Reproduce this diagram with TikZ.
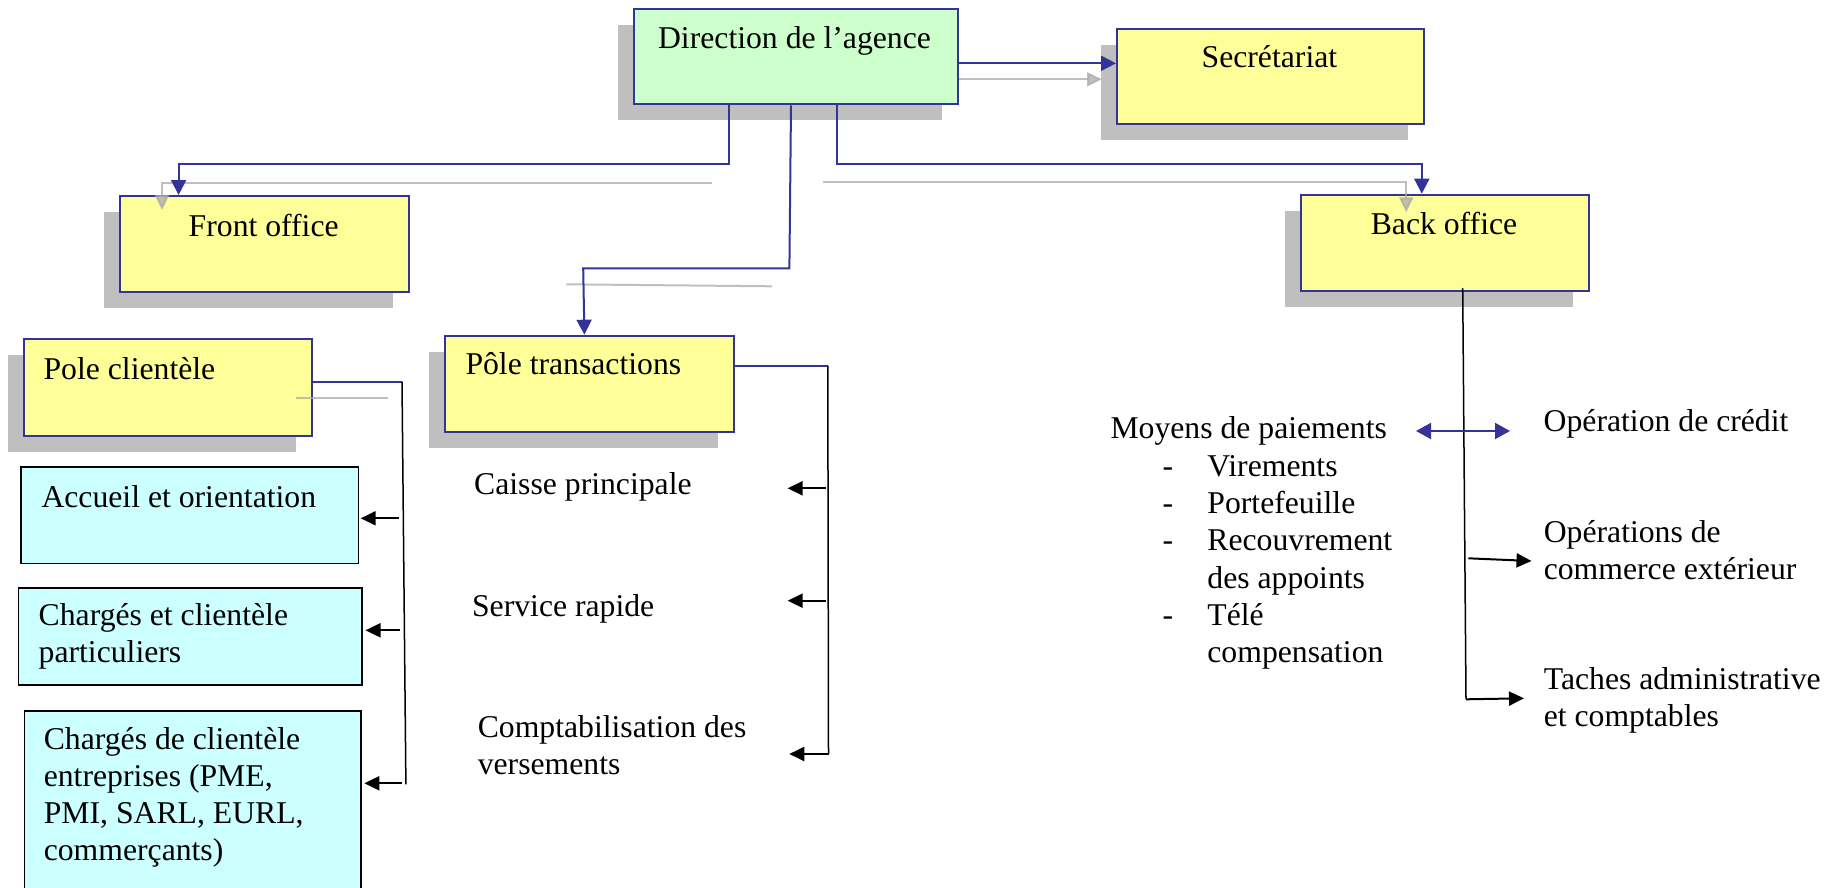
\documentclass[tikz,border=0pt]{standalone}
\usepackage{fontspec}
\setmainfont{Liberation Serif}
\usetikzlibrary{arrows.meta,shadows,calc}
\definecolor{bblue}{HTML}{333399}
\definecolor{byellow}{HTML}{FFFF99}
\definecolor{bgreen}{HTML}{CCFFCC}
\definecolor{bcyan}{HTML}{CCFFFF}
\definecolor{shgray}{HTML}{BFBFBF}
\definecolor{lgray}{HTML}{AAAAAA}
\newcommand{\bigfont}{\fontsize{31.7pt}{37.1pt}\selectfont}
\newcommand{\mlines}[1]{\begin{tabular}[t]{@{}l@{}}#1\end{tabular}}
\tikzset{
  sh/.style={drop shadow={shadow xshift=-16pt, shadow yshift=-16pt, opacity=1, fill=shgray}},
  ybox/.style={draw=bblue, line width=2pt, fill=byellow, inner sep=0pt, anchor=north west, sh},
  gbox/.style={draw=bblue, line width=2pt, fill=bgreen, inner sep=0pt, anchor=north west, sh},
  cbox/.style={draw=black, line width=1.5pt, fill=bcyan, inner sep=0pt, anchor=north west},
  lbl/.style={inner sep=0pt, anchor=base west},
  clbl/.style={inner sep=0pt, anchor=base},
  bl/.style={draw=bblue, line width=2pt},
  blarrow/.style={bl, -{Triangle[length=15pt,width=15pt]}},
  gl/.style={draw=lgray, line width=2pt, opacity=0.75},
  glarrow/.style={gl, -{Triangle[length=15pt,width=14pt]}},
  bk/.style={draw=black, line width=1.5pt},
  bkarrow/.style={draw=black, line width=2pt, -{Triangle[length=15pt,width=14pt]}},
}
\begin{document}
\begin{tikzpicture}[x=1pt, y=-1pt, font=\bigfont]
\useasboundingbox (0,0) rectangle (1841,888);
\clip (0,0) rectangle (1841,888);

% boxes
\node[gbox, minimum width=324.1pt, minimum height=95pt] (dir) at (632.5,8.3) {};
\node[ybox, minimum width=306.8pt, minimum height=95pt] (secr) at (1116,27.7) {};
\node[ybox, minimum width=288.6pt, minimum height=96.3pt] (front) at (119.4,195) {};
\node[ybox, minimum width=287.5pt, minimum height=96pt] (back) at (1300.3,193.7) {};
\node[ybox, minimum width=288.8pt, minimum height=96.3pt] (ptrans) at (444.4,334.7) {};
\node[ybox, minimum width=288.2pt, minimum height=96.4pt] (pclient) at (23,338.3) {};
\node[cbox, minimum width=337.6pt, minimum height=96.4pt] (acc) at (20,466.3) {};
\node[cbox, minimum width=343.2pt, minimum height=97pt] (cpart) at (17.8,587) {};
\node[cbox, minimum width=336.5pt, minimum height=200pt] (cent) at (23.5,710.3) {};

% box texts
\node[clbl] (dirT) at (794.5,49) {Direction de l’agence};
\node[clbl] (secrT) at (1269.4,68) {Secrétariat};
\node[clbl] (frontT) at (263.7,236) {Front office};
\node[clbl] (backT) at (1444,234) {Back office};
\node[lbl] (ptransT) at (465.3,374) {Pôle transactions};
\node[lbl] (pclientT) at (43.4,379.3) {Pole clientèle};
\node[lbl] (accT) at (41.3,507.7) {Accueil et orientation};
\node[lbl] (cpartT) at (38.5,625) {\mlines{Chargés et clientèle\\particuliers}};
\node[lbl] (centT) at (43.6,749.3) {\mlines{Chargés de clientèle\\entreprises (PME,\\PMI, SARL, EURL,\\commerçants)}};

% free texts
\node[lbl] (caisse) at (474,494.3) {Caisse principale};
\node[lbl] (service) at (471.9,616.7) {Service rapide};
\node[lbl] (compta) at (477.6,737.7) {\mlines{Comptabilisation des\\versements}};
\node[lbl] (moyens) at (1110.3,438.8) {Moyens de paiements};
\node[lbl] (liste) at (1162.5,476.7) {\begin{tabular}[t]{@{}p{44.7pt}@{}l@{}}-&Virements\\-&Portefeuille\\-&Recouvrement\\&des appoints\\-&Télé\\&compensation\end{tabular}};
\node[lbl] (opcred) at (1543.5,431.7) {Opération de crédit};
\node[lbl] (opcom) at (1543.6,542.7) {\mlines{Opérations de\\commerce extérieur}};
\node[lbl] (taches) at (1543.6,689.3) {\mlines{Taches administrative\\et comptables}};

% gray shadow connectors
\draw[glarrow] ($(dir.north east)+(0,71)$) -- ($(secr.north west)+(-14,51.6)$);
\draw[glarrow] ($(dir.south west)+(79.2,77.4)$) -| ($(front.north west)+(42.6,15)$);
\draw[gl] ($(dir.south west)+(139.5,181)$) -- ($(ptrans.north west)+(121.9,-50.4)$);
\draw[glarrow] ($(dir.south west)+(190.8,77)$) -| ($(back.north west)+(105.9,18.6)$);
\draw[gl] ($(pclient.north east)+(-17.2,60)$) -- ($(pclient.north east)+(74.8,60)$);

% blue connectors
\draw[blarrow] ($(dir.north east)+(0,55)$) -- ($(secr.north west)+(0,35.6)$);
\draw[blarrow] ($(dir.south west)+(96,0)$) |- ($(front.north west)+(59.2,-31)$) -- ($(front.north west)+(59.2,0)$);
\draw[blarrow] ($(dir.south west)+(158.5,0)$) -- ($(ptrans.north west)+(345,-66.4)$) -- ($(ptrans.north west)+(138.8,-66.4)$) -- ($(ptrans.north west)+(140,0)$);
\draw[blarrow] ($(dir.south west)+(204.4,0)$) |- ($(back.north west)+(121.5,-29.7)$) -- ($(back.north west)+(121.5,0)$);

% Pole clientele branch
\coordinate (pcv) at (402,381.7);
\coordinate (pcb) at (405.9,784.3);
\draw[bl] ($(pclient.north east)+(0,43.4)$) -- (pcv);
\draw[bk] (pcv) -- (pcb);
\draw[bkarrow] (399,518.3) -- ($(acc.north east)+(1.6,52)$);
\draw[bkarrow] (400,630.3) -- ($(cpart.north east)+(3,43.3)$);
\draw[bkarrow] (402,783.3) -- ($(cent.north east)+(2.8,73)$);

% Pole transactions branch
\coordinate (ptv) at (827.8,365.7);
\coordinate (ptb) at (828.5,754);
\coordinate (a1) at (787.6,488.3);
\coordinate (a2) at (787.6,600.7);
\coordinate (a3) at (789.3,754);
\draw[bl] ($(ptrans.north east)+(0,31)$) -- (ptv);
\draw[bk] (ptv) -- (ptb);
\draw[bkarrow] (826,488.3) -- (a1);
\draw[bkarrow] (826,600.7) -- (a2);
\draw[bkarrow] (ptb) -- (a3);

% Back office branch
\coordinate (bkb) at (1466,699.3);
\coordinate (d1) at (1416,431);
\coordinate (d2) at (1510,431);
\coordinate (e1) at (1531.5,561);
\coordinate (e2) at (1524,698.3);
\draw[bk] ($(back.south west)+(162.4,-3.7)$) -- (bkb);
\draw[bl, {Triangle[length=15pt,width=16pt]}-{Triangle[length=15pt,width=16pt]}] (d1) -- (d2);
\draw[bkarrow] (1468.3,558.3) -- (e1);
\draw[bkarrow] (bkb) -- (e2);
\end{tikzpicture}
\end{document}
